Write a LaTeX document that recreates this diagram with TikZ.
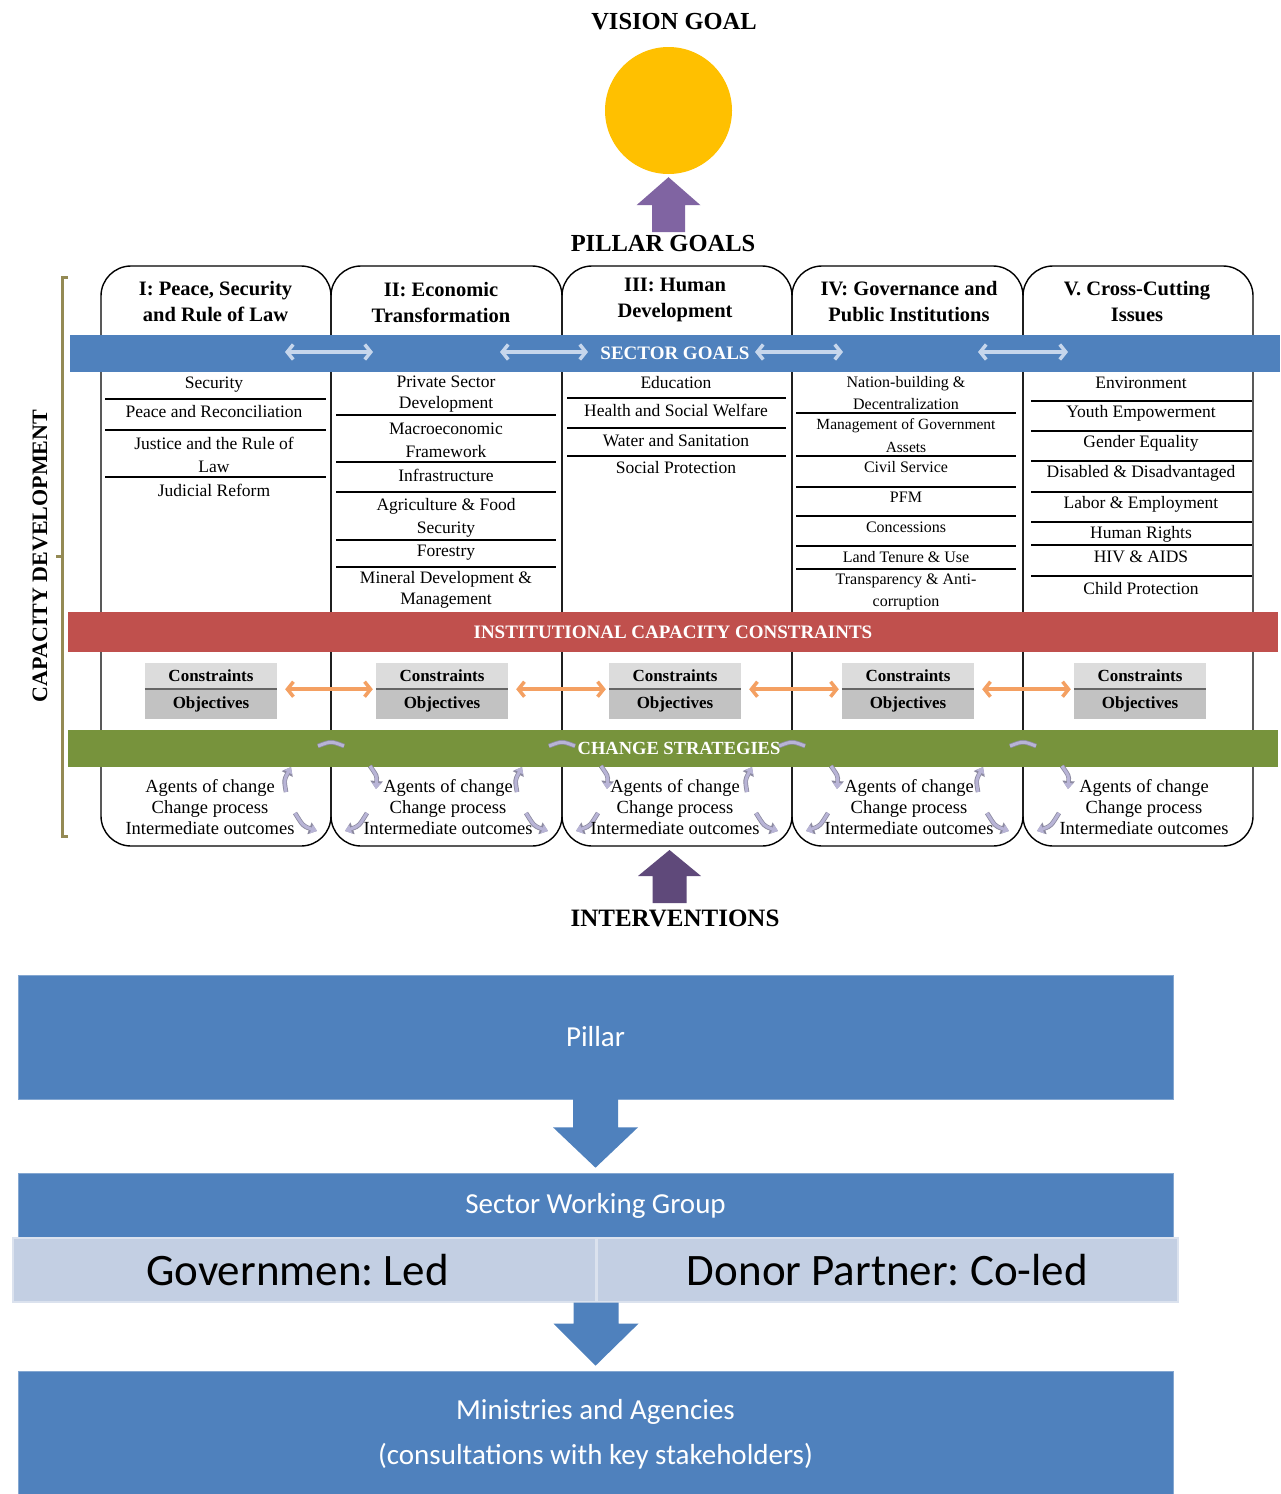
\documentclass[tikz,border=0pt]{standalone}
\usepackage{fontspec}
\setmainfont{Liberation Serif}
\newfontfamily\calib{Carlito}
\usetikzlibrary{arrows.meta,calc}
\definecolor{bandblue}{HTML}{4F81BD}
\definecolor{bandred}{HTML}{C0504D}
\definecolor{bandgreen}{HTML}{77933C}
\definecolor{sungold}{HTML}{FFC000}
\definecolor{purpA}{HTML}{8064A2}
\definecolor{purpB}{HTML}{5F497A}
\definecolor{olivebr}{HTML}{948A54}
\definecolor{paleblue}{HTML}{C6D6EC}
\definecolor{orangeA}{HTML}{F4A062}
\definecolor{grayA}{HTML}{DCDCDC}
\definecolor{grayB}{HTML}{C2C2C2}
\definecolor{cyclav}{HTML}{B8B4D6}
\definecolor{cycedge}{HTML}{8C8AA0}
\definecolor{bandlight}{HTML}{C3CFE3}
\tikzset{
  colframe/.style={draw=black, line width=1.4pt, rounded corners=30pt},
  title/.style={font=\fontsize{24.5}{28}\selectfont\bfseries, inner sep=0pt},
  hdr/.style={font=\fontsize{20.5}{26}\selectfont\bfseries, align=center, inner sep=0pt},
  itm/.style={font=\fontsize{17.5}{23}\selectfont, align=center, inner sep=0pt},
  itmb/.style={font=\fontsize{17.5}{21}\selectfont, align=center, inner sep=0pt},
  itmc/.style={font=\fontsize{16}{22}\selectfont, align=center, inner sep=0pt},
  rulel/.style={line width=1.5pt},
  band/.style={inner sep=0pt, text=white, font=\fontsize{19}{22}\selectfont\bfseries},
  lbar/.style={draw=paleblue, line width=3.5pt, {Straight Barb[length=6pt,width=15pt]}-{Straight Barb[length=6pt,width=15pt]}},
  obar/.style={draw=orangeA, line width=3.5pt, {Straight Barb[length=6pt,width=15pt]}-{Straight Barb[length=6pt,width=15pt]}},
  ctop/.style={fill=grayA, minimum width=132pt, minimum height=26pt, inner sep=0pt, font=\fontsize{17}{20}\selectfont\bfseries},
  cbot/.style={fill=grayB, minimum width=132pt, minimum height=30pt, inner sep=0pt, font=\fontsize{17}{20}\selectfont\bfseries},
  agt/.style={font=\fontsize{18.5}{21}\selectfont, align=center, inner sep=0pt},
  cycund/.style={draw=cycedge, line width=4.6pt, -{Triangle[length=8pt,width=12pt]}},
  cyc/.style={draw=cyclav, line width=3pt, -{Triangle[length=6pt,width=9pt]}},
  cycdash/.style={draw=cyclav, line width=3.2pt},
  bluebox/.style={fill=bandblue, draw=bandblue!70!white, line width=0.6pt, inner sep=0pt, text=white, font=\calib\fontsize{29}{45}\selectfont, align=center},
  lightcell/.style={fill=bandlight, draw=bandlight!60!white, line width=1.2pt, inner sep=0pt, font=\calib\fontsize{45}{50}\selectfont},
}
\begin{document}
\frenchspacing
\begin{tikzpicture}[x=1pt,y=-1pt]
\useasboundingbox[fill=white] (0,0) rectangle (1280,1494);

% ---------- top ----------
\node[title] (vision) at (674,22) {VISION GOAL};
\node[circle, fill=sungold, minimum size=127pt, inner sep=0pt] (sun) at (668.5,110.5) {};
\node[title] (pgoals) at (663,244) {PILLAR GOALS};
\fill[purpA] ($(sun.south)+(-16.5,58)$) -- ($(sun.south)+(-16.5,31)$) -- ($(sun.south)+(-32,31)$) -- ($(sun.south)+(0,3)$) -- ($(sun.south)+(32,31)$) -- ($(sun.south)+(16.5,31)$) -- ($(sun.south)+(16.5,58)$) -- cycle;

% ---------- column frames ----------
\foreach \xa/\xb in {101/331,331/562,562/792,792/1023,1023/1253}
  \draw[colframe] (\xa,266) rectangle (\xb,846);

% headers
\node[hdr] (h1) at (215.5,302) {I: Peace, Security\\and Rule of Law};
\node[hdr] (h2) at (441,302) {II: Economic\\Transformation};
\node[hdr] (h3) at (675,299.5) {III: Human\\Development};
\node[hdr] (h4) at (909,302) {IV: Governance and\\Public Institutions};
\node[hdr] (h5) at (1137,302) {V. Cross-Cutting\\Issues};

% ---------- bands ----------
\node[band, fill=bandblue, minimum width=1210pt, minimum height=37pt] (sg) at (675,353.5) {SECTOR GOALS};
\node[band, fill=bandred, minimum width=1210pt, minimum height=40pt, font=\fontsize{19}{22}\selectfont\bfseries] (icc) at (673,632) {INSTITUTIONAL CAPACITY CONSTRAINTS};
\node[band, fill=bandgreen, minimum width=1210pt, minimum height=37pt] (cs) at (673,748.5) {};
\node[band, font=\fontsize{18.5}{21}\selectfont\bfseries] (cst) at (679,748) {CHANGE STRATEGIES};

\coordinate (sa1) at (285,352); \coordinate (sb1) at (373,352);
\coordinate (sa2) at (500,352); \coordinate (sb2) at (588,352);
\coordinate (sa3) at (755,352); \coordinate (sb3) at (843,352);
\coordinate (sa4) at (978,352); \coordinate (sb4) at (1068,352);
\foreach \i in {1,2,3,4} \draw[lbar] (sa\i) -- (sb\i);

% ---------- column 1 ----------
\node[itm] (c1a) at (214,385) {Security};
\draw[rulel] (105,399) -- (326,399);
\node[itm] (c1b) at (214,412) {Peace and Reconciliation};
\draw[rulel] (105,430) -- (326,430);
\node[itm] (c1c) at (214,454.5) {Justice and the Rule of\\Law};
\draw[rulel] (105,477) -- (326,477);
\node[itm] (c1d) at (214,490) {Judicial Reform};

% ---------- column 2 ----------
\node[itmb] (c2a) at (446,394.5) {Private Sector\\Development};
\draw[rulel] (336,415) -- (556,415);
\node[itm] (c2b) at (446,440) {Macroeconomic\\Framework};
\draw[rulel] (336,462) -- (556,462);
\node[itm] (c2c) at (446,475) {Infrastructure};
\draw[rulel] (336,492) -- (556,492);
\node[itm] (c2d) at (446,518) {Agriculture \& Food\\Security};
\draw[rulel] (336,540) -- (556,540);
\node[itm] (c2e) at (446,553) {Forestry};
\draw[rulel] (336,567) -- (556,567);
\node[itmb] (c2f) at (446,589.5) {Mineral Development \&\\Management};

% ---------- column 3 ----------
\node[itm] (c3a) at (676,383) {Education};
\draw[rulel] (567,398) -- (786,398);
\node[itm] (c3b) at (676,410) {Health and Social Welfare};
\draw[rulel] (567,428) -- (786,428);
\node[itm] (c3c) at (676,441) {Water and Sanitation};
\draw[rulel] (567,456) -- (786,456);
\node[itm] (c3d) at (676,468) {Social Protection};

% ---------- column 4 ----------
\node[itmc] (c4a) at (906,393) {Nation-building \&\\Decentralization};
\draw[rulel] (796,413) -- (1016,413);
\node[itmc, font=\fontsize{15.5}{23}\selectfont] (c4b) at (906,435.5) {Management of Government\\Assets};
\draw[rulel] (796,456) -- (1016,456);
\node[itmc] (c4c) at (906,467) {Civil Service};
\draw[rulel] (796,487) -- (1016,487);
\node[itmc] (c4d) at (906,497) {PFM};
\draw[rulel] (796,516) -- (1016,516);
\node[itmc] (c4e) at (906,527) {Concessions};
\draw[rulel] (796,546) -- (1016,546);
\node[itmc] (c4f) at (906,557) {Land Tenure \& Use};
\draw[rulel] (796,569) -- (1016,569);
\node[itmc] (c4g) at (906,592) {Transparency \& Anti-\\corruption};

% ---------- column 5 ----------
\node[itm] (c5a) at (1141,383) {Environment};
\draw[rulel] (1031,401) -- (1252,401);
\node[itm] (c5b) at (1141,413) {Youth Empowerment};
\draw[rulel] (1031,431) -- (1252,431);
\node[itm] (c5c) at (1141,443) {Gender Equality};
\draw[rulel] (1031,461) -- (1252,461);
\node[itm] (c5d) at (1141,473) {Disabled \& Disadvantaged};
\draw[rulel] (1031,492) -- (1252,492);
\node[itm] (c5e) at (1141,504) {Labor \& Employment};
\draw[rulel] (1031,522) -- (1252,522);
\node[itm] (c5f) at (1141,534) {Human Rights};
\draw[rulel] (1031,545) -- (1252,545);
\node[itm] (c5g) at (1141,557) {HIV \& AIDS};
\draw[rulel] (1031,576) -- (1252,576);
\node[itm] (c5h) at (1141,589) {Child Protection};

% ---------- constraints / objectives ----------
\foreach \i/\cx in {1/211,2/442,3/675,4/908,5/1140}{
  \node[ctop] (ct\i) at (\cx,676) {Constraints};
  \node[cbot] (cb\i) at (\cx,704) {Objectives};
  \draw[line width=2pt, black!60] (ct\i.south west) -- (ct\i.south east);
}
\foreach \i/\j in {1/2,2/3,3/4,4/5}
  \draw[obar, shorten <=8pt, shorten >=3pt] (ct\i.south east) -- (ct\j.south west);

% ---------- change strategy cycles ----------
\foreach \bx in {331,562,792,1023}{
  \foreach \sty in {cycund,cyc}{
    \draw[\sty] (\bx-45,792) .. controls (\bx-47,780) .. (\bx-40,767);
    \draw[\sty] (\bx+39,766) .. controls (\bx+46,776) .. (\bx+45,789);
    \draw[\sty] (\bx-36,813) .. controls (\bx-28,826) .. (\bx-14,831);
    \draw[\sty] (\bx+36,813) .. controls (\bx+28,826) .. (\bx+14,831);
  }
  \draw[cycedge, line width=4.6pt] (\bx-13,746) .. controls (\bx,741) .. (\bx+13,746);
  \draw[cycdash, line width=3pt] (\bx-13,746) .. controls (\bx,741) .. (\bx+13,746);
}

\foreach \i/\cx in {1/210,2/448,3/675,4/909,5/1144}
  \node[agt] (ag\i) at (\cx,807) {Agents of change\\Change process\\Intermediate outcomes};

% ---------- capacity development bracket ----------
\draw[olivebr, line width=3pt] (68,277) -- (62,277) -- (62,836) -- (68,836);
\draw[olivebr, line width=3pt] (62,556) -- (56,556);
\node[rotate=90, inner sep=0pt, font=\fontsize{22}{26}\selectfont\bfseries] (capdev) at (40,556) {CAPACITY DEVELOPMENT};

% ---------- interventions ----------
\node[title, font=\fontsize{25}{28}\selectfont\bfseries] (interv) at (675,918) {INTERVENTIONS};
\coordinate (colbot) at (669.5,846);
\fill[purpB] ($(colbot)+(-17,57)$) -- ($(colbot)+(-17,30)$) -- ($(colbot)+(-31.5,30)$) -- ($(colbot)+(0,4)$) -- ($(colbot)+(31.5,30)$) -- ($(colbot)+(17,30)$) -- ($(colbot)+(17,57)$) -- cycle;

% ---------- bottom flow ----------
\node[bluebox, minimum width=1155pt, minimum height=124pt] (pillar) at (595.5,1037) {Pillar};
\node[bluebox, minimum width=1155pt, minimum height=65pt] (swg) at (595.5,1205.5) {Sector Working Group};
\node[lightcell, minimum width=583pt, minimum height=64pt] (gov) at (304.5,1270) {\makebox[0pt]{\hspace*{-14pt}Governmen: Led}};
\node[lightcell, minimum width=581pt, minimum height=64pt] (donor) at (887.5,1270) {Donor Partner: Co-led};
\node[bluebox, minimum width=1155pt, minimum height=126pt] (mins) at (595.5,1434) {Ministries and Agencies\\(consultations with key stakeholders)};

\fill[bandblue] ($(pillar.south)+(-22.5,-1)$) -- ($(pillar.south)+(-22.5,28)$) -- ($(pillar.south)+(-42.5,28)$) -- ($(swg.north)+(0,-5)$) -- ($(pillar.south)+(42.5,28)$) -- ($(pillar.south)+(22.5,28)$) -- ($(pillar.south)+(22.5,-1)$) -- cycle;
\coordinate (gd) at ($(gov.south east)!0.5!(donor.south west)$);
\fill[bandblue] ($(gd)+(-23,0)$) -- ($(gd)+(-23,21)$) -- ($(gd)+(-43,21)$) -- ($(mins.north)+(0,-5)$) -- ($(gd)+(42,21)$) -- ($(gd)+(22,21)$) -- ($(gd)+(22,0)$) -- cycle;
\end{tikzpicture}
\end{document}
